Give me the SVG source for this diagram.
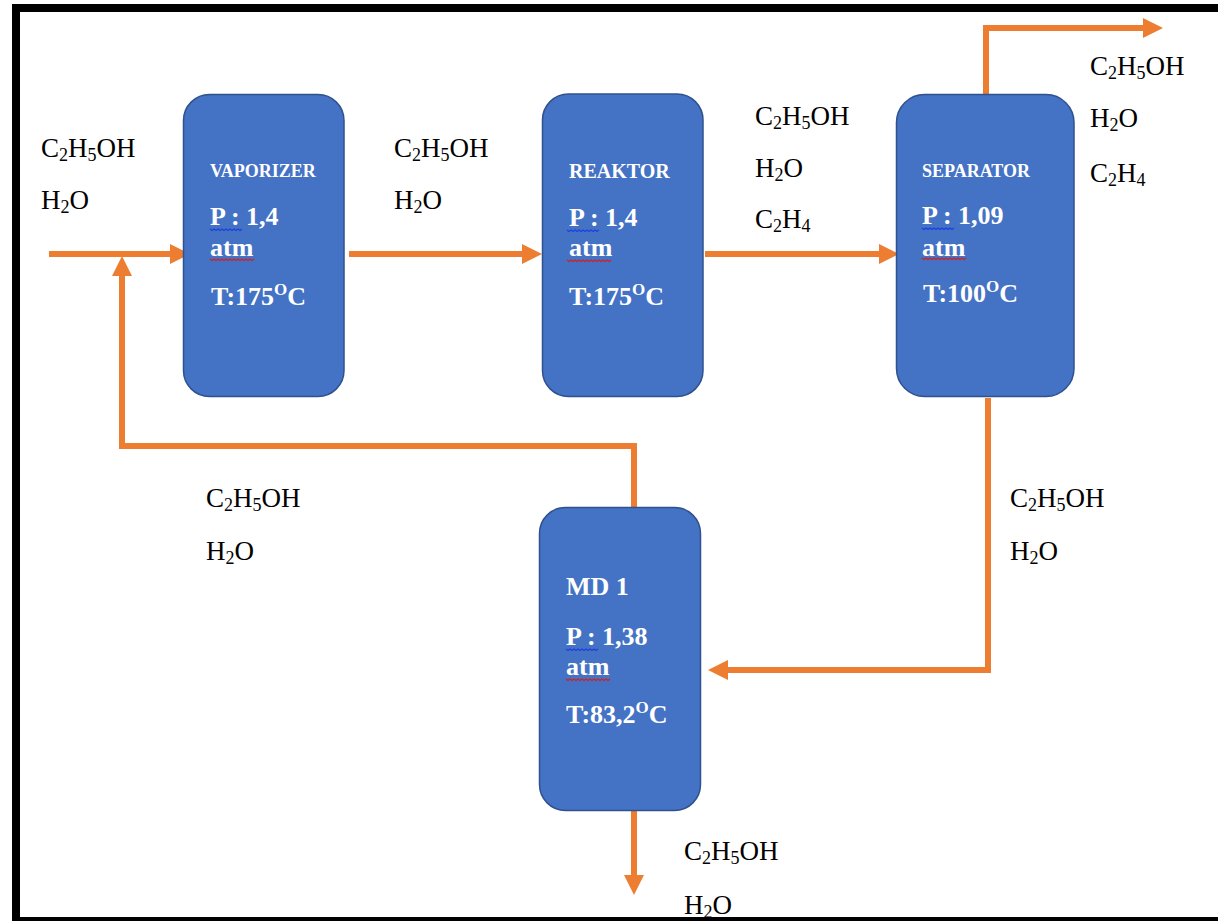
<svg xmlns="http://www.w3.org/2000/svg" xmlns:xlink="http://www.w3.org/1999/xlink" width="1218" height="921" viewBox="0 0 1218 921">
<style>
.lbl{font-family:"Liberation Serif","Times New Roman",serif;font-size:27px;fill:#000}
.sb{font-size:18px}
.box{fill:#4472C4;stroke:#2F528F;stroke-width:1.5}
.nt{font-family:"Liberation Serif","Times New Roman",serif;font-weight:bold;fill:#fff;font-size:26px}
.nh{font-size:18px}
.nr{font-size:20px}
.sp{font-size:17px}
.flow{fill:none;stroke:#ED7D31;stroke-width:6;marker-end:url(#ah)}
.wb{fill:none;stroke:#1f3fe0;stroke-width:1.2}
.wr{fill:none;stroke:#d42020;stroke-width:1.2}
</style>
<defs>
<marker id="ah" viewBox="0 0 20 20" refX="8" refY="10" markerWidth="20" markerHeight="20" markerUnits="userSpaceOnUse" orient="auto">
<path d="M0,0 L20,10 L0,20 z" fill="#ED7D31"/>
</marker>
<path id="w8" d="M0 0 l2 1.5 l2 -1.5 l2 1.5 l2 -1.5 l2 1.5 l2 -1.5 l2 1.5 l2 -1.5 l2 1.5 l2 -1.5 l2 1.5 l2 -1.5 l2 1.5 l2 -1.5 l2 1.5 l2 -1.5"/>
<path id="w11" d="M0 0 l2 1.5 l2 -1.5 l2 1.5 l2 -1.5 l2 1.5 l2 -1.5 l2 1.5 l2 -1.5 l2 1.5 l2 -1.5 l2 1.5 l2 -1.5 l2 1.5 l2 -1.5 l2 1.5 l2 -1.5 l2 1.5 l2 -1.5 l2 1.5 l2 -1.5 l2 1.5 l2 -1.5"/>
</defs>
<rect width="1218" height="921" fill="#fff"/>
<rect x="16" y="8" width="1212" height="913" fill="none" stroke="#000" stroke-width="8"/>

<g id="connectors">
<path class="flow" d="M49 254 H178"/>
<path class="flow" d="M634 510 V446 H122 V268"/>
<path class="flow" d="M349 254 H530"/>
<path class="flow" d="M705 254 H887"/>
<path class="flow" d="M986 94 V28 H1151"/>
<path class="flow" d="M988 398 V670 H720"/>
<path class="flow" d="M634 811 V883"/>
</g>

<g id="labels">
<text class="lbl" x="41" y="157">C<tspan class="sb" dy="4">2</tspan><tspan dy="-4">H</tspan><tspan class="sb" dy="4">5</tspan><tspan dy="-4">OH</tspan></text>
<text class="lbl" x="41" y="209">H<tspan class="sb" dy="4">2</tspan><tspan dy="-4">O</tspan></text>
<text class="lbl" x="394" y="157">C<tspan class="sb" dy="4">2</tspan><tspan dy="-4">H</tspan><tspan class="sb" dy="4">5</tspan><tspan dy="-4">OH</tspan></text>
<text class="lbl" x="394" y="209">H<tspan class="sb" dy="4">2</tspan><tspan dy="-4">O</tspan></text>
<text class="lbl" x="755" y="125">C<tspan class="sb" dy="4">2</tspan><tspan dy="-4">H</tspan><tspan class="sb" dy="4">5</tspan><tspan dy="-4">OH</tspan></text>
<text class="lbl" x="755" y="177">H<tspan class="sb" dy="4">2</tspan><tspan dy="-4">O</tspan></text>
<text class="lbl" x="755" y="228">C<tspan class="sb" dy="4">2</tspan><tspan dy="-4">H</tspan><tspan class="sb" dy="4">4</tspan></text>
<text class="lbl" x="1090" y="75">C<tspan class="sb" dy="4">2</tspan><tspan dy="-4">H</tspan><tspan class="sb" dy="4">5</tspan><tspan dy="-4">OH</tspan></text>
<text class="lbl" x="1090" y="127">H<tspan class="sb" dy="4">2</tspan><tspan dy="-4">O</tspan></text>
<text class="lbl" x="1090" y="182">C<tspan class="sb" dy="4">2</tspan><tspan dy="-4">H</tspan><tspan class="sb" dy="4">4</tspan></text>
<text class="lbl" x="206" y="507">C<tspan class="sb" dy="4">2</tspan><tspan dy="-4">H</tspan><tspan class="sb" dy="4">5</tspan><tspan dy="-4">OH</tspan></text>
<text class="lbl" x="206" y="560">H<tspan class="sb" dy="4">2</tspan><tspan dy="-4">O</tspan></text>
<text class="lbl" x="1010" y="507">C<tspan class="sb" dy="4">2</tspan><tspan dy="-4">H</tspan><tspan class="sb" dy="4">5</tspan><tspan dy="-4">OH</tspan></text>
<text class="lbl" x="1010" y="560">H<tspan class="sb" dy="4">2</tspan><tspan dy="-4">O</tspan></text>
<text class="lbl" x="684" y="860">C<tspan class="sb" dy="4">2</tspan><tspan dy="-4">H</tspan><tspan class="sb" dy="4">5</tspan><tspan dy="-4">OH</tspan></text>
<text class="lbl" x="684" y="914">H<tspan class="sb" dy="4">2</tspan><tspan dy="-4">O</tspan></text>
</g>

<g id="vaporizer">
<rect class="box" x="183.5" y="94.5" width="160.5" height="302" rx="26"/>
<text class="nt nh" x="210" y="177">VAPORIZER</text>
<text class="nt" x="210" y="225">P : 1,4</text>
<text class="nt" x="210" y="256">atm</text>
<text class="nt" x="211" y="305">T:175<tspan class="sp" dy="-10">O</tspan><tspan dy="10">C</tspan></text>
<use href="#w8" x="210" y="229" class="wb"/>
<use href="#w11" x="210" y="259" class="wr"/>
</g>

<g id="reaktor">
<rect class="box" x="542.5" y="94" width="160.5" height="302.5" rx="26"/>
<text class="nt nr" x="569" y="178">REAKTOR</text>
<text class="nt" x="569" y="226">P : 1,4</text>
<text class="nt" x="569" y="256">atm</text>
<text class="nt" x="569" y="305">T:175<tspan class="sp" dy="-10">O</tspan><tspan dy="10">C</tspan></text>
<use href="#w8" x="567" y="230" class="wb"/>
<use href="#w11" x="567" y="260" class="wr"/>
</g>

<g id="separator">
<rect class="box" x="896.5" y="94.5" width="177.5" height="302" rx="28"/>
<text class="nt nh" x="922" y="177">SEPARATOR</text>
<text class="nt" x="922" y="224">P : 1,09</text>
<text class="nt" x="922" y="256">atm</text>
<text class="nt" x="923" y="302">T:100<tspan class="sp" dy="-10">O</tspan><tspan dy="10">C</tspan></text>
<use href="#w8" x="922" y="228" class="wb"/>
<use href="#w11" x="922" y="258" class="wr"/>
</g>

<g id="md1">
<rect class="box" x="539.5" y="507.5" width="161" height="303" rx="26"/>
<text class="nt" x="566" y="595">MD 1</text>
<text class="nt" x="566" y="645">P : 1,38</text>
<text class="nt" x="566" y="675">atm</text>
<text class="nt" x="566" y="723">T:83,2<tspan class="sp" dy="-10">O</tspan><tspan dy="10">C</tspan></text>
<use href="#w8" x="566" y="649" class="wb"/>
<use href="#w11" x="566" y="679" class="wr"/>
</g>
</svg>
